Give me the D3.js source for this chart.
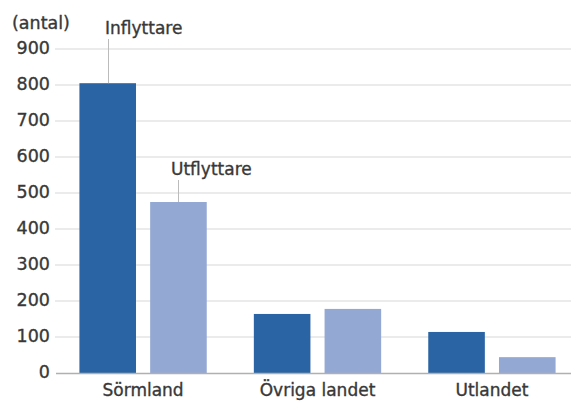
<!DOCTYPE html>
<html><head><meta charset="utf-8">
<script src="https://cdn.jsdelivr.net/npm/d3@7"></script>
<style>body{margin:0;background:#fff}svg{display:block}text{font-family:"DejaVu Sans",Verdana,sans-serif}</style>
</head><body><svg id="c" width="571" height="401"></svg>
<script>
const categories = ["Sörmland", "Övriga landet", "Utlandet"];
const series = ["Inflyttare", "Utflyttare"];
const inflyttare = [805, 164, 114];
const utflyttare = [475, 178, 44];
const yTicks = [0, 100, 200, 300, 400, 500, 600, 700, 800, 900];
const unitLabel = "(antal)";
const colors = ["#2a64a4", "#94a8d4"];

const svg = d3.select("#c");
const W = 571;
const FONT = '"DejaVu Sans",Verdana,sans-serif';
const y = d3.scaleLinear().domain([0, 900]).range([373, 49]);
const x0 = d3.scaleBand().domain(categories).range([55, 580]).paddingInner(0.27).paddingOuter(0.14);
const x1 = d3.scaleBand().domain(series).range([0, x0.bandwidth()]).paddingInner(0.2);
const vals = [inflyttare, utflyttare];

function styleText(sel, size) {
  sel.attr("font-size", size).attr("fill", "#383838").attr("stroke", "#383838")
    .attr("stroke-width", 0.35).style("font-family", FONT);
}

// grid
svg.append("g").selectAll("line").data(yTicks.filter(d => d > 0)).join("line")
  .attr("x1", 55).attr("x2", W).attr("y1", d => y(d)).attr("y2", d => y(d))
  .attr("stroke", "#e4e4e4").attr("stroke-width", 1.3);

// y axis labels
const yAxis = d3.axisLeft(y).tickValues(yTicks).tickSize(0).tickPadding(0);
const ga = svg.append("g").attr("transform", "translate(50,0)").call(yAxis);
ga.select(".domain").remove();
ga.selectAll("text").attr("dy", "0.28em").call(styleText, 17.5);

svg.append("text").attr("x", 12).attr("y", 29).text(unitLabel).call(styleText, 17.5);

// bars
series.forEach((s, si) => {
  svg.append("g").selectAll("rect").data(categories).join("rect")
    .attr("x", c => x0(c) + x1(s)).attr("width", x1.bandwidth())
    .attr("y", (c, i) => y(vals[si][i])).attr("height", (c, i) => y(0) - y(vals[si][i]))
    .attr("fill", colors[si]);
});

// baseline
svg.append("line").attr("x1", 56).attr("x2", W).attr("y1", y(0) + 0.5).attr("y2", y(0) + 0.5)
  .attr("stroke", "#b0b0b0").attr("stroke-width", 1.3);

// category labels
const xAxis = d3.axisBottom(x0).tickSize(0).tickPadding(0);
const gx = svg.append("g").attr("transform", `translate(0,${y(0)})`).call(xAxis);
gx.select(".domain").remove();
gx.selectAll("text").attr("dy", 0).attr("y", 23).call(styleText, 17);

// series callouts
const callouts = [
  {si: 0, lx: 105, ly: 34, y1: 39},
  {si: 1, lx: 171, ly: 175, y1: 180}
];
callouts.forEach(cl => {
  const s = series[cl.si];
  const cx = Math.round(x0(categories[0]) + x1(s) + x1.bandwidth() / 2) + 0.5;
  svg.append("line").attr("x1", cx).attr("x2", cx)
    .attr("y1", cl.y1).attr("y2", y(vals[cl.si][0]))
    .attr("stroke", "#bbb").attr("stroke-width", 1);
  svg.append("text").attr("x", cl.lx).attr("y", cl.ly).text(s).call(styleText, 17);
});
</script></body></html>
